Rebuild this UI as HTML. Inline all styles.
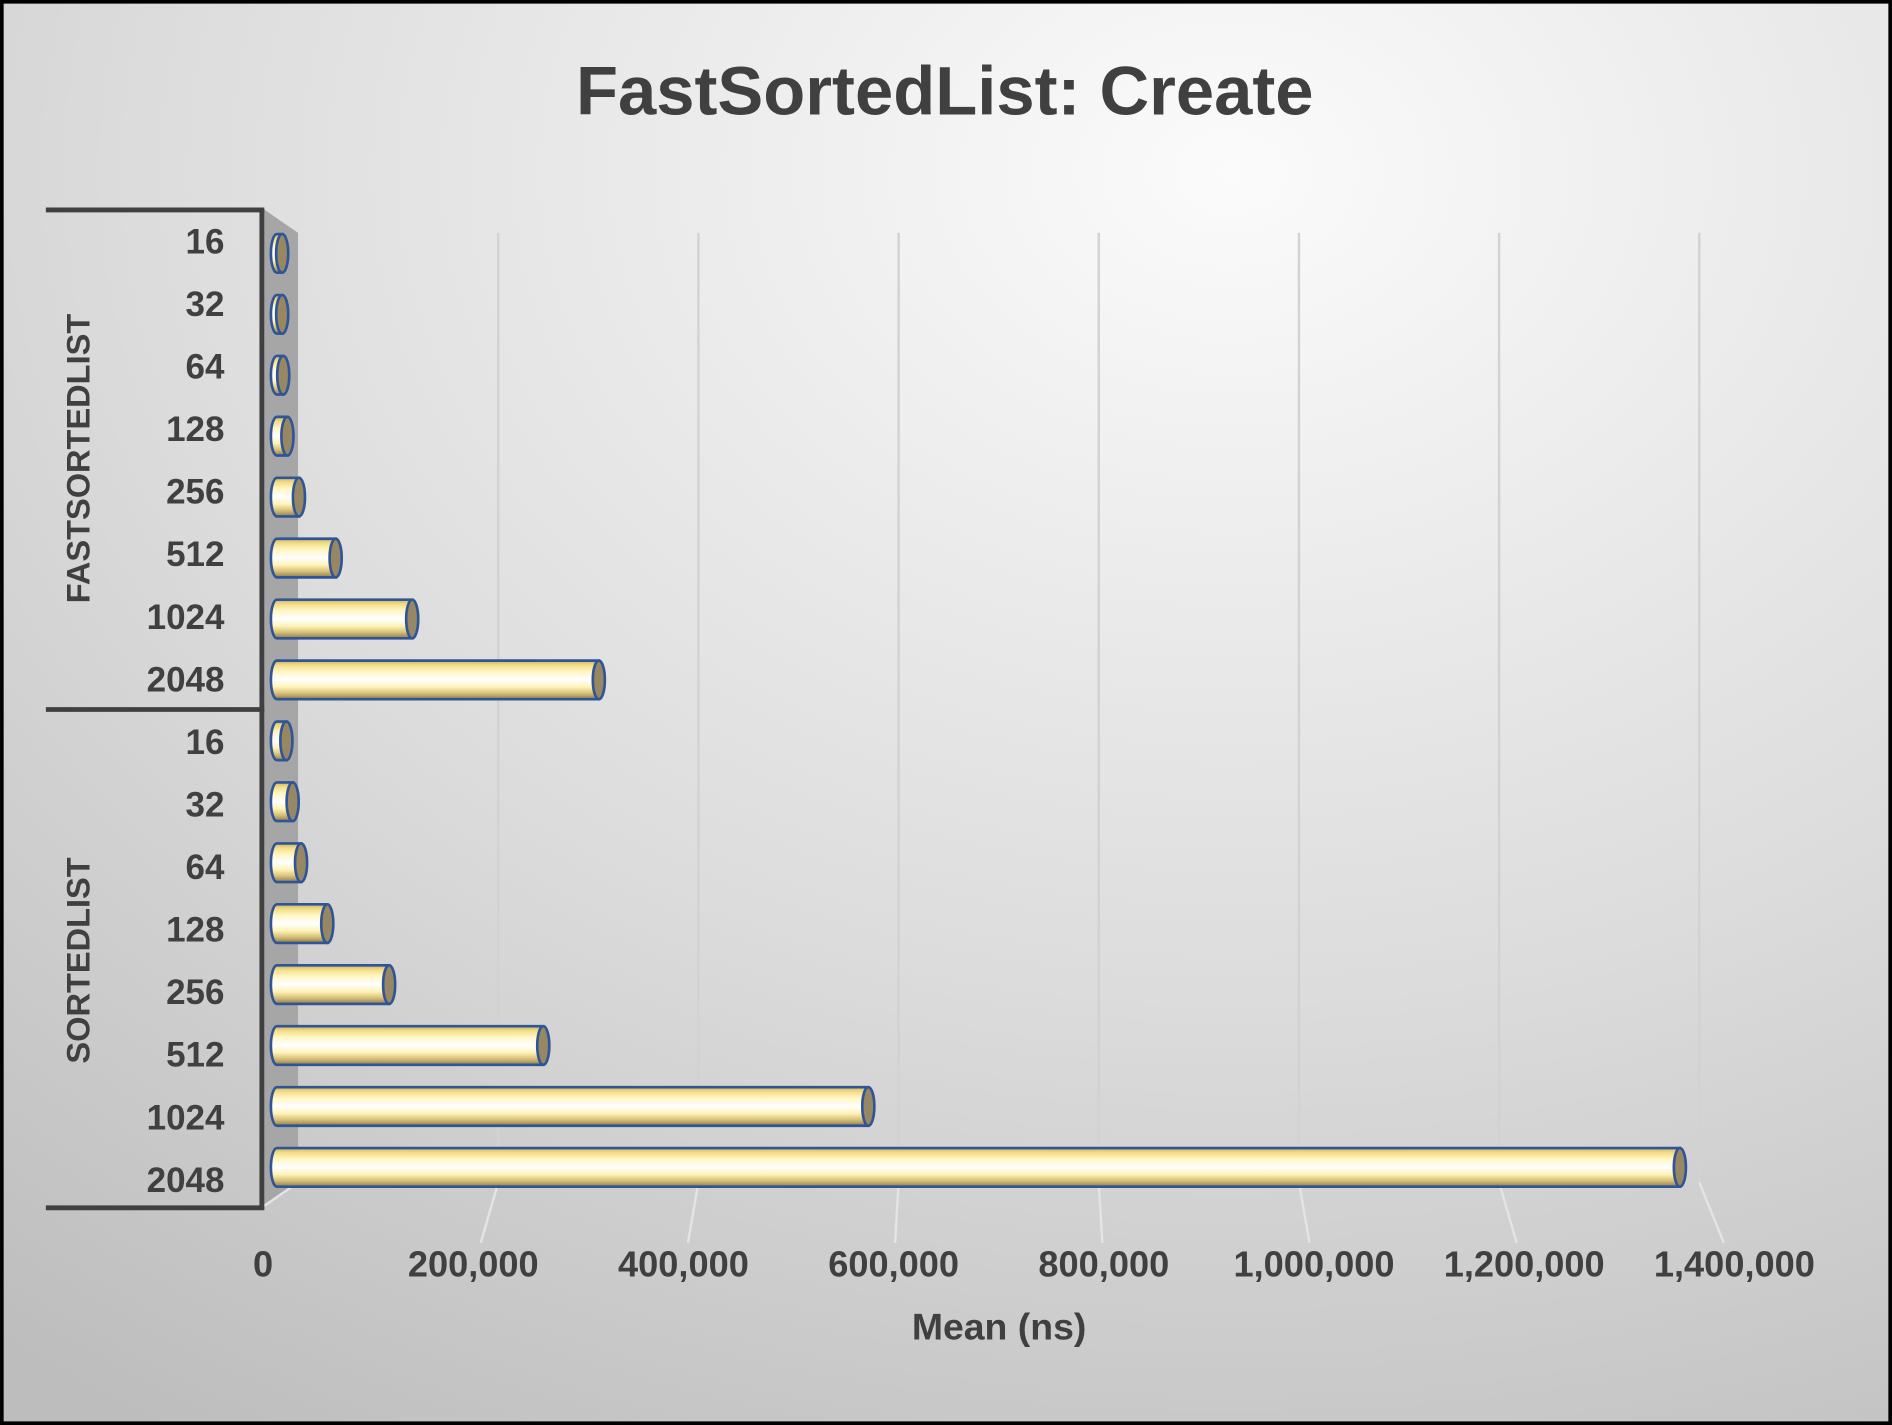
<!DOCTYPE html>
<html><head><meta charset="utf-8"><style>
html,body{margin:0;padding:0;width:1892px;height:1425px;overflow:hidden;background:#fff}
svg{display:block}
text{font-family:"Liberation Sans",sans-serif;font-weight:bold;fill:#404040}
</style></head><body>
<svg id="chart" width="1892" height="1425" viewBox="0 0 1568 1181" xmlns="http://www.w3.org/2000/svg">
<defs>
<radialGradient id="bg" cx="0.65" cy="0.12" r="1.05">
<stop offset="0" stop-color="#fbfbfb"/><stop offset="0.55" stop-color="#dcdcdc"/><stop offset="1" stop-color="#bdbdbd"/>
</radialGradient>
<linearGradient id="cyl" x1="0" y1="0" x2="0" y2="1">
<stop offset="0" stop-color="#c9b36a"/><stop offset="0.12" stop-color="#f5dd86"/><stop offset="0.28" stop-color="#fff6c4"/><stop offset="0.5" stop-color="#ffffff"/><stop offset="0.68" stop-color="#fff3b8"/><stop offset="0.84" stop-color="#d8c27a"/><stop offset="1" stop-color="#8f7c4c"/>
</linearGradient>
</defs>
<rect x="1.5" y="1.5" width="1565" height="1178" fill="url(#bg)" stroke="#000" stroke-width="3"/>
<text x="783" y="95" font-size="57" text-anchor="middle">FastSortedList: Create</text>
<polygon points="218,173 247,193 247,980 218,1000" fill="#a6a6a6"/>
<g id="grid"></g>
<g id="bars"></g>
<g id="labels"></g>
<line x1="217" y1="173" x2="217" y2="1002" stroke="#404040" stroke-width="4"/>
<line x1="38" y1="174" x2="219" y2="174" stroke="#404040" stroke-width="4"/>
<line x1="38" y1="588" x2="219" y2="588" stroke="#404040" stroke-width="4"/>
<line x1="38" y1="1001" x2="219" y2="1001" stroke="#404040" stroke-width="4"/>
<text font-size="27" text-anchor="middle" transform="translate(74,380) rotate(-90)">FASTSORTEDLIST</text>
<text font-size="27" text-anchor="middle" transform="translate(74,796) rotate(-90)">SORTEDLIST</text>
<text x="828" y="1110" font-size="31" text-anchor="middle">Mean (ns)</text>
</svg>
<script>
const categories = ["16","32","64","128","256","512","1024","2048"];
const groups = ["FastSortedList","SortedList"];
const fastValues = [5000,5000,6000,10000,21000,56000,129000,307000];
const sortedValues = [9000,15000,23000,48000,107000,254000,564000,1338000];
const tickValues = [0,200000,400000,600000,800000,1000000,1200000,1400000];
const tickLabels = ["0","200,000","400,000","600,000","800,000","1,000,000","1,200,000","1,400,000"];

const NS='http://www.w3.org/2000/svg';
const xFront = v => 229.5 + v/200000*173.8;
const xBack = v => 247 + v/200000*165.9;
const tickX = v => 218 + v/200000*174.2;
const barY = i => 210 + i*50.5;
const labelY = i => 200 + i*51.85;
function mk(tag, attrs, parent){const e=document.createElementNS(NS,tag);for(const k in attrs)e.setAttribute(k,attrs[k]);parent.appendChild(e);return e;}
const grid=document.getElementById('grid'), bars=document.getElementById('bars'), labels=document.getElementById('labels');

tickValues.forEach((v,i)=>{
  if(i>0){
    const g=mk('line',{x1:xBack(v),y1:193,x2:xBack(v),y2:980,stroke:'#d2d2d2','stroke-width':2},grid);
    
    
    const f=mk('line',{x1:xBack(v),y1:980,x2:xBack(v)+ (tickX(v)-xBack(v))*0.7,y2:1030,stroke:'#e4e4e4','stroke-width':2},grid);
    
    
  }
  const t=mk('text',{x:tickX(v),y:1058,'font-size':30,'text-anchor':'middle'},labels);
  t.textContent=tickLabels[i];
  
  
});
const fl=mk('line',{x1:218,y1:1000,x2:247,y2:980,stroke:'#e4e4e4','stroke-width':2},grid);



function drawGroup(values, offset){
  values.forEach((v,i)=>{
    const cy=barY(i+offset), h=32, x0=xFront(0), x1=xFront(v), rx=5;
    const g=mk('g',{},bars);
    
    
    const w=Math.max(x1-x0,0);
    mk('path',{d:`M${x0},${cy-h/2} L${x0+w},${cy-h/2} L${x0+w},${cy+h/2} L${x0},${cy+h/2} A${rx},${h/2} 0 0 1 ${x0},${cy-h/2} Z`,fill:'url(#cyl)',stroke:'#2f5597','stroke-width':2.2},g);
    mk('ellipse',{cx:x0+w,cy:cy,rx:rx,ry:h/2,fill:'#978863',stroke:'#2f5597','stroke-width':2.2},g);
    const t=mk('text',{x:186,y:labelY(i+offset)+10,'font-size':29,'text-anchor':'end'},labels);
    t.textContent=categories[i];
    
    
  });
}
drawGroup(fastValues,0);
drawGroup(sortedValues,8);
</script>
</body></html>
